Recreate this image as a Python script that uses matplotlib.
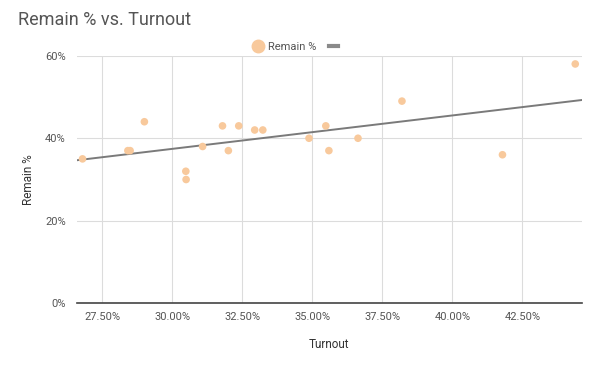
import numpy as np
import matplotlib
matplotlib.use("Agg")
import matplotlib.pyplot as plt
from matplotlib.lines import Line2D
from matplotlib.ticker import FuncFormatter

plt.rcParams['font.family'] = ['Roboto', 'DejaVu Sans']

turnout = [26.79, 28.41, 28.49, 29.0, 30.48, 30.49, 31.08, 31.79, 32.0, 32.37,
           32.94, 33.23, 34.88, 35.48, 35.59, 36.63, 38.2, 41.79, 44.39]
remain = [35, 37, 37, 44, 32, 30, 38, 43, 37, 43,
          42, 42, 40, 43, 37, 40, 49, 36, 58]
x_ticks = [27.5, 30.0, 32.5, 35.0, 37.5, 40.0, 42.5]
y_ticks = [0, 20, 40, 60]

fig = plt.figure(figsize=(6.0, 3.68), dpi=100)
ax = fig.add_axes([0.128, 0.1758, 0.8415, 0.6728])

dot_color = '#f8c99c'
ax.scatter(turnout, remain, s=30, color=dot_color, edgecolors='none', zorder=3)

slope, intercept = np.polyfit(turnout, remain, 1)
xl = np.array([26.586, 44.62])
ax.plot(xl, slope * xl + intercept, color='#7a7a7a', lw=1.4, zorder=2)

ax.set_xlim(26.586, 44.62)
ax.set_ylim(0, 60)
ax.set_xticks(x_ticks)
ax.set_yticks(y_ticks)
ax.xaxis.set_major_formatter(FuncFormatter(lambda v, p: f"{v:.2f}%"))
ax.yaxis.set_major_formatter(FuncFormatter(lambda v, p: f"{v:.0f}%"))
ax.grid(True, color='#dcdcdc', lw=0.8)
ax.set_axisbelow(True)
for s in ['top', 'right', 'left']:
    ax.spines[s].set_visible(False)
ax.spines['bottom'].set_color('#444444')
ax.spines['bottom'].set_linewidth(1.2)
ax.tick_params(length=0, labelsize=8, labelcolor='#555555', pad=6)
ax.tick_params(axis='y', pad=8)

ax.set_xlabel('Turnout', fontsize=8.5, color='#333333', labelpad=12)
ax.set_ylabel('Remain %', fontsize=8.5, color='#333333', labelpad=7)

fig.text(0.03, 0.945, 'Remain % vs. Turnout', fontsize=13, color='#555555', va='center')

handles = [Line2D([], [], marker='o', ls='none', markersize=9, color=dot_color, label='Remain %'),
           Line2D([], [], color='#8a8a8a', lw=3, label=' ')]
fig.legend(handles=handles, loc='center', bbox_to_anchor=(0.5, 0.872), ncol=2, frameon=False,
           fontsize=8, labelcolor='#555555', handlelength=0.8, handletextpad=0.5, columnspacing=1.2)

fig.savefig('out.png', dpi=100)
